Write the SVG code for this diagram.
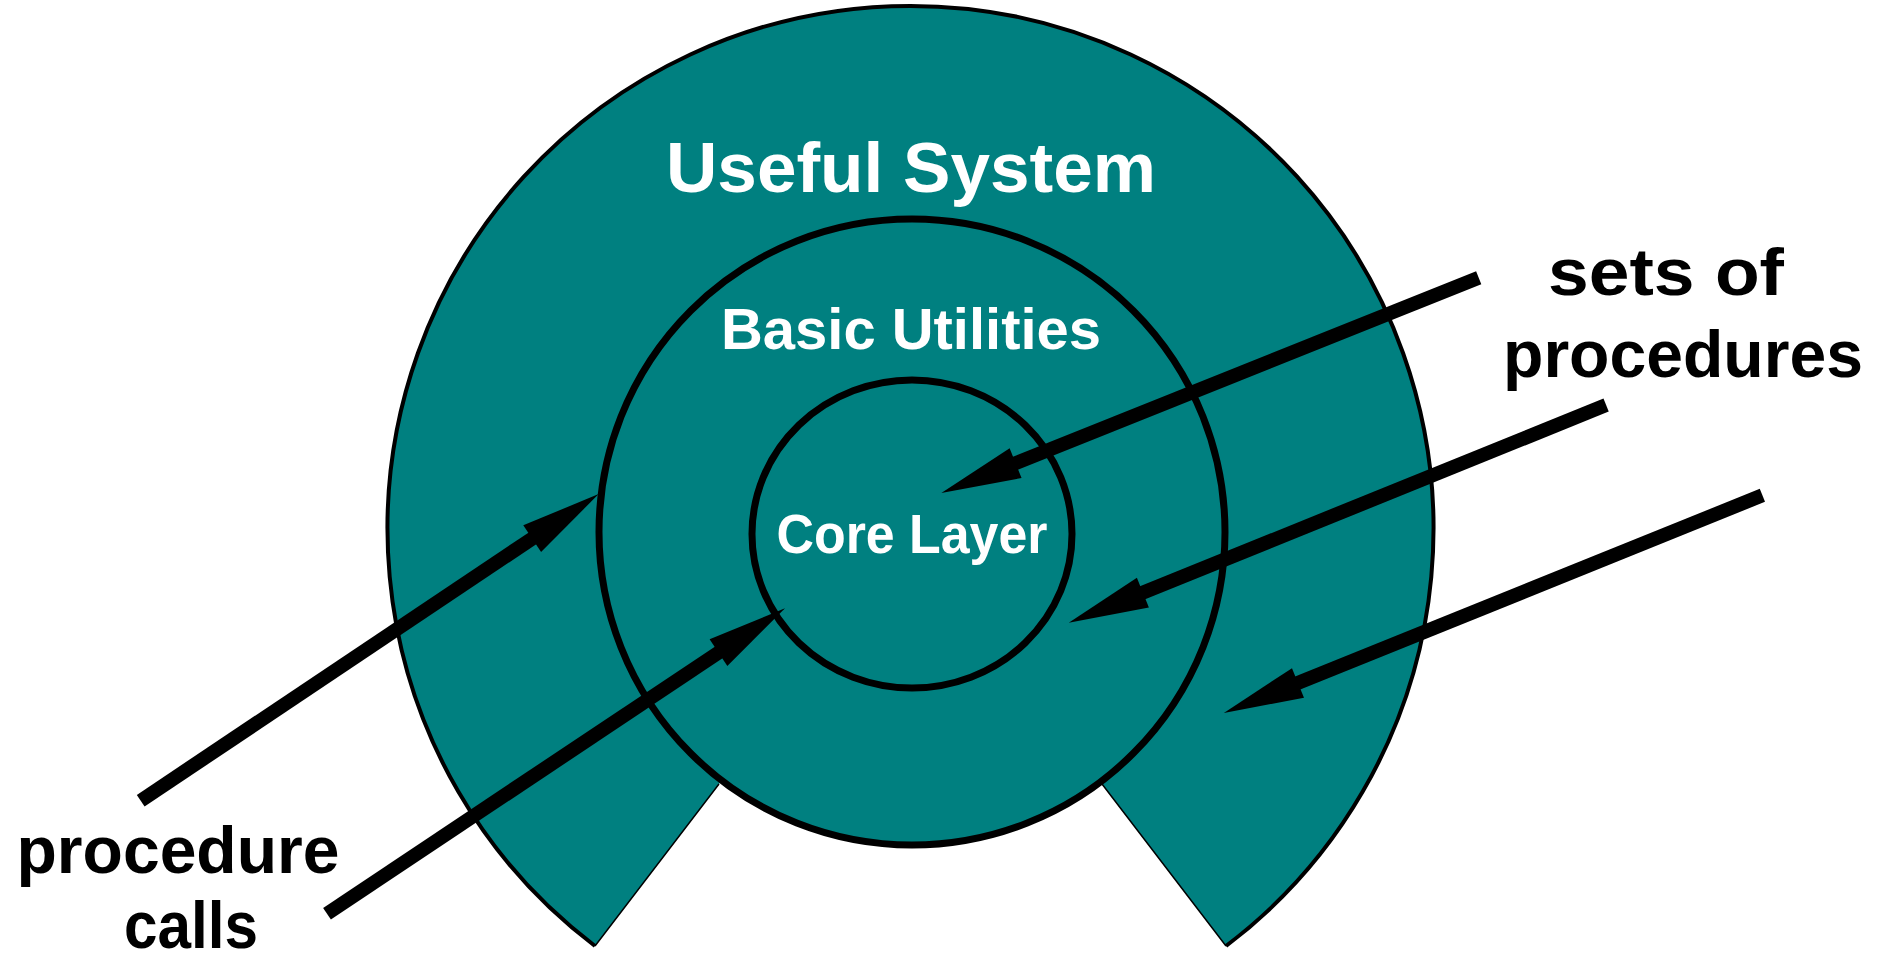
<svg xmlns="http://www.w3.org/2000/svg" width="1885" height="962" viewBox="0 0 1885 962">
  <style>
    .ring { fill: #008080; stroke: #000; stroke-width: 7; }
    .wlabel { fill: #fff; font-family: "Comic Sans MS", "Liberation Sans", sans-serif; font-weight: bold; text-anchor: middle; }
    .blabel { fill: #000; font-family: "Comic Sans MS", "Liberation Sans", sans-serif; font-weight: bold; text-anchor: middle; font-size: 66px; }
    .conn { stroke: #000; stroke-width: 14; fill: none; marker-end: url(#head); }
  </style>
  <defs>
    <marker id="head" markerUnits="userSpaceOnUse" markerWidth="90" markerHeight="40" viewBox="0 -20 90 40" refX="7" refY="0" orient="auto" overflow="visible">
      <path d="M0,-16 L80,0 L0,16 Z" fill="#000"/>
    </marker>
  </defs>
  <rect width="1885" height="962" fill="#fff"/>

  <g id="useful-system">
    <path d="M595,946 A523,523 0 1 1 1226,946 L1102,784 L912,532 L719,784 Z" fill="#008080"/>
    <path d="M595,946 A523,523 0 1 1 1226,946" fill="none" stroke="#000" stroke-width="4"/>
    <path d="M595,946 L719,784 M1226,946 L1102,784" fill="none" stroke="#000" stroke-width="1.5"/>
    <text class="wlabel" x="911" y="192" font-size="70" textLength="490" lengthAdjust="spacingAndGlyphs">Useful System</text>
  </g>

  <g id="basic-utilities">
    <circle class="ring" cx="912" cy="532" r="313"/>
    <text class="wlabel" x="911" y="349" font-size="57" textLength="380" lengthAdjust="spacingAndGlyphs">Basic Utilities</text>
  </g>

  <g id="core-layer">
    <ellipse class="ring" cx="912" cy="534" rx="160" ry="154"/>
    <text class="wlabel" x="912" y="553" font-size="55" textLength="271" lengthAdjust="spacingAndGlyphs">Core Layer</text>
  </g>

  <g id="sets-of-procedures">
    <text class="blabel" x="1666" y="295" textLength="236" lengthAdjust="spacingAndGlyphs">sets of</text>
    <text class="blabel" x="1683" y="377" textLength="360" lengthAdjust="spacingAndGlyphs">procedures</text>
  </g>

  <g id="procedure-calls">
    <text class="blabel" x="178" y="873" font-size="62" textLength="323" lengthAdjust="spacingAndGlyphs">procedure</text>
    <text class="blabel" x="191" y="948" font-size="62" textLength="134" lengthAdjust="spacingAndGlyphs">calls</text>
  </g>

  <g id="connectors">
    <line class="conn" x1="1478.7" y1="277.7" x2="1009.1" y2="465.8"/>
    <line class="conn" x1="1606.1" y1="405.1" x2="1136.4" y2="595.3"/>
    <line class="conn" x1="1762.4" y1="495.3" x2="1291.5" y2="685.6"/>
    <line class="conn" x1="140.7" y1="800.7" x2="538" y2="534.7"/>
    <line class="conn" x1="327" y1="913.7" x2="724.3" y2="648.8"/>
  </g>
</svg>
